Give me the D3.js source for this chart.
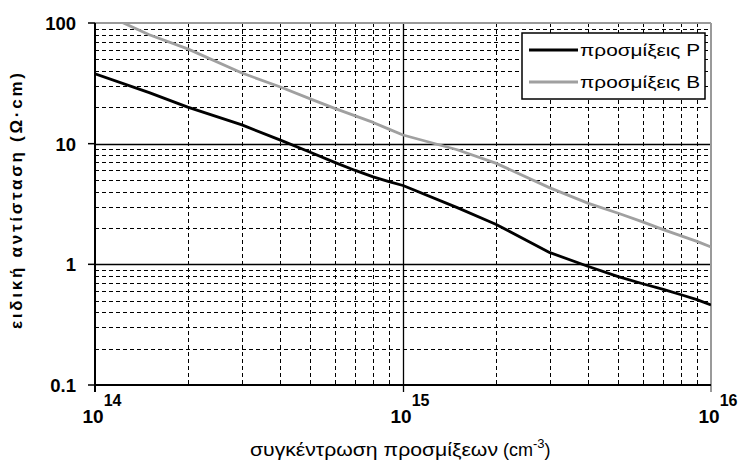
<!DOCTYPE html>
<html>
<head>
<meta charset="utf-8">
<script src="https://cdn.jsdelivr.net/npm/d3@7"></script>
<style>
  body { margin: 0; background: #fff; }
  text { font-family: Arial, "Liberation Sans", sans-serif; }
</style>
</head>
<body>
<svg id="chart"></svg>
<script>
// concentration (cm^-3)
const concentration = [1e14, 1.5e14, 2e14, 3e14, 4e14, 5e14, 6e14, 7e14, 8e14, 9e14,
  1e15, 1.5e15, 2e15, 3e15, 4e15, 5e15, 6e15, 7e15, 8e15, 9e15, 1e16];
// resistivity (Ohm cm)
const resP = [38, 26.5, 20.1, 14.3, 10.7, 8.5, 7.0, 6.0, 5.3, 4.85,
  4.5, 2.95, 2.15, 1.25, 0.96, 0.79, 0.69, 0.62, 0.56, 0.51, 0.46];
const resB = [128, 80, 61, 38.5, 29.5, 23.5, 19.6, 17.0, 15.0, 13.2,
  11.8, 8.9, 6.9, 4.3, 3.2, 2.65, 2.25, 1.94, 1.72, 1.55, 1.39];
const seriesNames = ['προσμίξεις P', 'προσμίξεις B'];
const seriesColors = ['#000000', '#a0a0a0'];
const yTickLabels = ['0.1', '1', '10', '100'];
const xTickExponents = ['14', '15', '16'];

const width = 742, height = 465;
const margin = { top: 23, right: 31, bottom: 80, left: 95 };
const iw = width - margin.left - margin.right;
const ih = height - margin.top - margin.bottom;

const svg = d3.select('#chart').attr('width', width).attr('height', height);
const g = svg.append('g').attr('transform', `translate(${margin.left},${margin.top})`);

const x = d3.scaleLog().domain([1e14, 1e16]).range([0, iw]);
const y = d3.scaleLog().domain([0.1, 100]).range([ih, 0]);

// minor grid lines
const minorX = [], minorY = [];
[1e14, 1e15].forEach(b => { for (let k = 2; k <= 9; k++) minorX.push(b * k); });
[0.1, 1, 10].forEach(b => { for (let k = 2; k <= 9; k++) minorY.push(b * k); });

g.selectAll('.minor-y').data(minorY).enter().append('line')
  .attr('x1', 0).attr('x2', iw)
  .attr('y1', d => Math.round(y(d)) + 0.5).attr('y2', d => Math.round(y(d)) + 0.5)
  .attr('stroke', '#000').attr('stroke-width', 1).attr('stroke-dasharray', '4,3');
g.selectAll('.minor-x').data(minorX).enter().append('line')
  .attr('y1', 0).attr('y2', ih)
  .attr('x1', d => Math.round(x(d)) + 0.5).attr('x2', d => Math.round(x(d)) + 0.5)
  .attr('stroke', '#000').attr('stroke-width', 1).attr('stroke-dasharray', '4,3');

// major grid lines
g.selectAll('.major-y').data([1, 10]).enter().append('line')
  .attr('x1', 0).attr('x2', iw)
  .attr('y1', d => Math.round(y(d)) + 0.5).attr('y2', d => Math.round(y(d)) + 0.5)
  .attr('stroke', '#000').attr('stroke-width', 1.3);
g.selectAll('.major-x').data([1e15]).enter().append('line')
  .attr('y1', 0).attr('y2', ih + 7)
  .attr('x1', d => Math.round(x(d)) + 0.5).attr('x2', d => Math.round(x(d)) + 0.5)
  .attr('stroke', '#000').attr('stroke-width', 1.3);

// top and right border (gray)
g.append('line').attr('x1', 0).attr('x2', iw).attr('y1', 0).attr('y2', 0)
  .attr('stroke', '#9a9a9a').attr('stroke-width', 2);
g.append('line').attr('x1', iw).attr('x2', iw).attr('y1', 0).attr('y2', ih + 7)
  .attr('stroke', '#9a9a9a').attr('stroke-width', 2);

// axes lines
g.append('line').attr('x1', 0).attr('x2', 0).attr('y1', 0).attr('y2', ih + 7)
  .attr('stroke', '#000').attr('stroke-width', 2);
g.append('line').attr('x1', 0).attr('x2', iw).attr('y1', ih).attr('y2', ih)
  .attr('stroke', '#000').attr('stroke-width', 2);
g.selectAll('.ytick').data(yTickLabels).enter().append('line')
  .attr('x1', -7).attr('x2', 0)
  .attr('y1', d => y(+d)).attr('y2', d => y(+d))
  .attr('stroke', '#000').attr('stroke-width', 1.5);

// y tick labels
g.selectAll('.ylabel').data(yTickLabels).enter().append('text')
  .attr('x', -19).attr('y', d => y(+d) + 7)
  .attr('text-anchor', 'end')
  .style('font-size', '18.5px').style('font-weight', 'bold')
  .text(d => d);

// x tick labels: 10^n
const xl = g.selectAll('.xlabel').data(xTickExponents).enter().append('text')
  .attr('x', d => x(Math.pow(10, +d)) + 7).attr('y', ih + 38)
  .attr('text-anchor', 'middle')
  .style('font-size', '19px').style('font-weight', 'bold');
xl.append('tspan').text('10');
xl.append('tspan').attr('dy', -17).style('font-size', '16px').text(d => d);

// clip for data lines
svg.append('clipPath').attr('id', 'clip').append('rect')
  .attr('x', 0).attr('y', 0).attr('width', iw).attr('height', ih);

const line = d3.line()
  .x(d => x(d[0]))
  .y(d => y(d[1]));

[resP, resB].forEach((vals, i) => {
  g.append('path')
    .datum(concentration.map((c, j) => [c, vals[j]]))
    .attr('clip-path', 'url(#clip)')
    .attr('fill', 'none')
    .attr('stroke', seriesColors[i])
    .attr('stroke-width', 2.8)
    .attr('stroke-linejoin', 'round')
    .attr('d', line);
});

// legend
const lg = svg.append('g').attr('transform', 'translate(522,33)');
lg.append('rect').attr('width', 183).attr('height', 66)
  .attr('fill', '#fff').attr('stroke', '#000').attr('stroke-width', 1.5);
seriesNames.forEach((name, i) => {
  const yy = 17 + i * 32;
  lg.append('line').attr('x1', 7).attr('x2', 56).attr('y1', yy).attr('y2', yy)
    .attr('stroke', seriesColors[i]).attr('stroke-width', 2.8);
  lg.append('text').attr('x', 58).attr('y', yy + 6)
    .style('font-size', '17px')
    .attr('textLength', 120).attr('lengthAdjust', 'spacingAndGlyphs')
    .text(name);
});

// axis titles
const xt = svg.append('text')
  .attr('x', 250).attr('y', 456)
  .style('font-size', '18px');
xt.append('tspan').attr('textLength', 248).attr('lengthAdjust', 'spacingAndGlyphs')
  .text('συγκέντρωση προσμίξεων');
xt.append('tspan').attr('x', 503).text('(cm');
xt.append('tspan').attr('dy', -8).style('font-size', '13px').text('-3');
xt.append('tspan').attr('dy', 8).text(')');

svg.append('text')
  .attr('transform', `translate(22,${margin.top + 178}) rotate(-90)`)
  .attr('text-anchor', 'middle')
  .style('font-size', '17px').style('font-weight', 'bold')
  .attr('textLength', 256).attr('lengthAdjust', 'spacing')
  .text('ειδική αντίσταση (Ω·cm)');
</script>
</body>
</html>
